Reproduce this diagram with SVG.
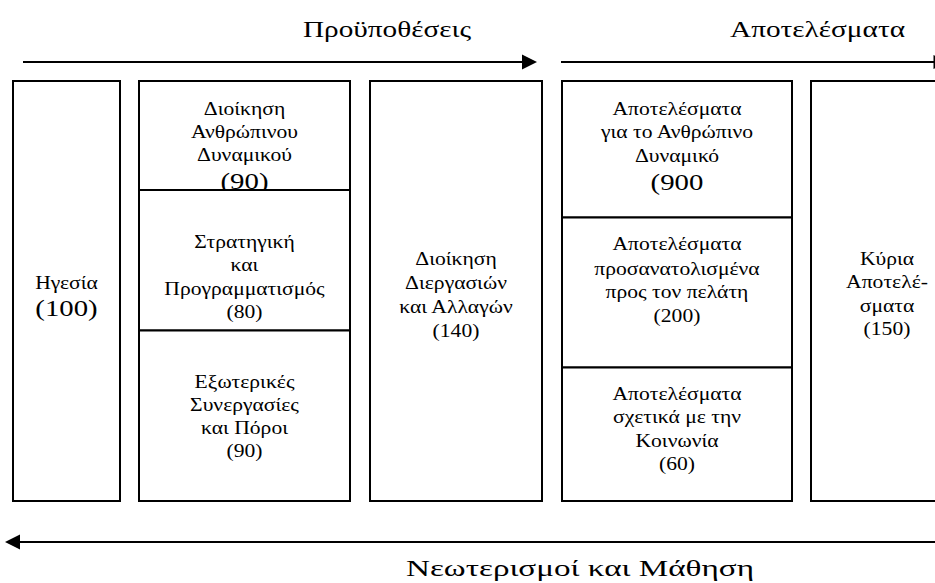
<svg xmlns="http://www.w3.org/2000/svg" width="935" height="583" viewBox="0 0 935 583">
<style>
.box{fill:#fff;stroke:#000;stroke-width:2}
.ln{stroke:#000;stroke-width:2;fill:none}
.ah{fill:#000}
text{font-family:"Liberation Serif","Times New Roman",serif;fill:#000;text-anchor:middle}
.t{font-size:18px}
.b{font-size:24px}
.h{font-size:23px}
</style>
<rect width="935" height="583" fill="#fff"/>
<g id="connectors">
<line class="ln" x1="23" y1="62" x2="524" y2="62"/>
<polygon class="ah" points="522,54.5 537,62 522,69.5"/>
<line class="ln" x1="561" y1="62" x2="935" y2="62"/>
<polygon class="ah" points="933.5,55 950,62 933.5,69"/>
<line class="ln" x1="18" y1="542" x2="935" y2="542"/>
<polygon class="ah" points="5,542 20,534.5 20,549.5"/>
</g>
<g id="title-prereq"><text class="h" x="387" y="37" textLength="168" lengthAdjust="spacingAndGlyphs">Προϋποθέσεις</text></g>
<g id="title-results"><text class="h" x="817.5" y="37" textLength="175" lengthAdjust="spacingAndGlyphs">Αποτελέσματα</text></g>
<g id="title-innovation"><text class="h" x="580" y="576" textLength="348" lengthAdjust="spacingAndGlyphs">Νεωτερισμοί και Μάθηση</text></g>
<g id="leadership">
<rect class="box" x="13" y="81" width="107" height="420"/>
<g transform="translate(66.5 0) scale(1.2 1)">
<text class="t" x="0" y="289">Ηγεσία</text>
<text class="b" x="0" y="316">(100)</text>
</g>
</g>
<g id="hr-management">
<rect class="box" x="139" y="81" width="211" height="109"/>
<g transform="translate(244.5 0) scale(1.2 1)">
<text class="t" x="0" y="115">Διοίκηση</text>
<text class="t" x="0" y="138">Ανθρώπινου</text>
<text class="t" x="0" y="161">Δυναμικού</text>
<text class="b" x="0" y="189">(90)</text>
</g>
</g>
<g id="strategy">
<rect class="box" x="139" y="190" width="211" height="140.5"/>
<g transform="translate(244.5 0) scale(1.2 1)">
<text class="t" x="0" y="248">Στρατηγική</text>
<text class="t" x="0" y="271">και</text>
<text class="t" x="0" y="295">Προγραμματισμός</text>
<text class="t" x="0" y="318">(80)</text>
</g>
</g>
<g id="partnerships">
<rect class="box" x="139" y="330.5" width="211" height="170.5"/>
<g transform="translate(244.5 0) scale(1.2 1)">
<text class="t" x="0" y="388">Εξωτερικές</text>
<text class="t" x="0" y="411">Συνεργασίες</text>
<text class="t" x="0" y="434">και Πόροι</text>
<text class="t" x="0" y="457">(90)</text>
</g>
</g>
<g id="process-management">
<rect class="box" x="370" y="81" width="172" height="420"/>
<g transform="translate(456 0) scale(1.2 1)">
<text class="t" x="0" y="265">Διοίκηση</text>
<text class="t" x="0" y="289">Διεργασιών</text>
<text class="t" x="0" y="313">και Αλλαγών</text>
<text class="t" x="0" y="337">(140)</text>
</g>
</g>
<g id="hr-results">
<rect class="box" x="562" y="81" width="230" height="136.5"/>
<g transform="translate(677 0) scale(1.2 1)">
<text class="t" x="0" y="115">Αποτελέσματα</text>
<text class="t" x="0" y="138">για το Ανθρώπινο</text>
<text class="t" x="0" y="162">Δυναμικό</text>
<text class="b" x="0" y="190">(900</text>
</g>
</g>
<g id="customer-results">
<rect class="box" x="562" y="217.5" width="230" height="150"/>
<g transform="translate(677 0) scale(1.2 1)">
<text class="t" x="0" y="250">Αποτελέσματα</text>
<text class="t" x="0" y="275">προσανατολισμένα</text>
<text class="t" x="0" y="298">προς τον πελάτη</text>
<text class="t" x="0" y="322">(200)</text>
</g>
</g>
<g id="society-results">
<rect class="box" x="562" y="367.5" width="230" height="133.5"/>
<g transform="translate(677 0) scale(1.2 1)">
<text class="t" x="0" y="400">Αποτελέσματα</text>
<text class="t" x="0" y="423">σχετικά με την</text>
<text class="t" x="0" y="447">Κοινωνία</text>
<text class="t" x="0" y="470">(60)</text>
</g>
</g>
<g id="key-results">
<rect class="box" x="811" y="81" width="150" height="420"/>
<g transform="translate(887 0) scale(1.2 1)">
<text class="t" x="0" y="265">Κύρια</text>
<text class="t" x="0" y="288">Αποτελέ-</text>
<text class="t" x="0" y="312">σματα</text>
<text class="t" x="0" y="335">(150)</text>
</g>
</g>
</svg>
